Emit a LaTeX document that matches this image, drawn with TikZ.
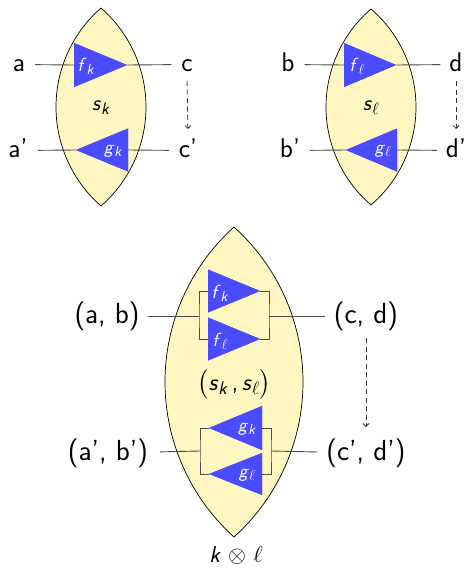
\RequirePackage{fix-cm}
\documentclass[tikz,border=0pt]{standalone}
\usepackage{amsmath}
\usepackage{fontspec}
\usetikzlibrary{arrows.meta}
\definecolor{lensfill}{HTML}{FFF7C2}
\definecolor{triblue}{HTML}{4B4BFF}
\makeatletter
\newcommand\mi[1]{\textsf{\itshape #1}}
\newcommand\sbs[1]{\raisebox{-0.17em}{\fontsize{\strip@pt\dimexpr0.76\dimexpr\f@size pt\relax\relax}{1}\selectfont #1}}
\makeatother
\newcommand\lensshape[4]{%
  \pgfmathsetmacro\lR{((#4)/(#3))*(#4)/2+(#3)/2}%
  \pgfmathsetmacro\lA{asin((#4)/\lR)}%
  \draw[lensst] (#1,{#2-#4}) arc[start angle={180+\lA}, end angle={180-\lA}, radius=\lR]
    arc[start angle=\lA, end angle=-\lA, radius=\lR] -- cycle;}
% right-pointing triangle: name, left x, centre y, half height, length
\newcommand\rtri[5]{%
  \fill[trist] (#2,{#3-#4}) -- ({#2+#5},#3) -- (#2,{#3+#4}) -- cycle;
  \coordinate (#1-in) at (#2,#3);
  \coordinate (#1-out) at ({#2+#5},#3);}
% left-pointing triangle: name, tip x, centre y, half height, length
\newcommand\ltri[5]{%
  \fill[trist] ({#2+#5},{#3-#4}) -- (#2,#3) -- ({#2+#5},{#3+#4}) -- cycle;
  \coordinate (#1-in) at ({#2+#5},#3);
  \coordinate (#1-out) at (#2,#3);}
\newcommand\symk[1]{\mi{#1}\sbs{\mi{k}}}
\newcommand\syml[1]{\mi{#1}\sbs{$\ell$}}
\begin{document}
\begin{tikzpicture}[x=1pt,y=-1pt,
  lensst/.style={fill=lensfill,draw=black,line width=0.7pt},
  wire/.style={draw=black!70,line width=0.9pt},
  trist/.style={fill=triblue},
  toplab/.style={inner sep=0pt,outer sep=0pt,anchor=base,text height=20pt,text depth=7pt,font=\sffamily\fontsize{27}{32}\selectfont},
  botlab/.style={inner sep=0pt,outer sep=0pt,anchor=base,text height=21pt,text depth=7pt,font=\sffamily\fontsize{29}{34}\selectfont},
  trilab/.style={inner sep=0pt,text=white,font=\sffamily\fontsize{19}{22}\selectfont},
  midlab/.style={inner sep=0pt,font=\sffamily\fontsize{22}{26}\selectfont},
  dasharrow/.style={draw=black!80,dashed,dash pattern=on 5pt off 3.5pt,-{Straight Barb[length=3pt,width=6pt]},line width=0.8pt}
]
\useasboundingbox (0,0) rectangle (466,568);

% ---------- lenses ----------
\lensshape{101}{107}{45}{99}
\lensshape{371}{107}{45}{98}
\lensshape{234}{382}{69}{155}

% ---------- labels ----------
\node[toplab] (a)  at (19,71) {a};
\node[toplab] (c)  at (187,71) {c};
\node[toplab] (a2) at (18,157) {a'};
\node[toplab] (c2) at (188,157) {c'};
\node[midlab] (sk) at (101,108) {\symk{s}};

\node[toplab] (b)  at (288,71) {b};
\node[toplab] (d)  at (456,71) {d};
\node[toplab] (b2) at (290,157) {b'};
\node[toplab] (d2) at (456,157) {d'};
\node[midlab] (sl) at (371,108) {\syml{s}};

\node[botlab] (ab)  at (107,323) {(a, b)};
\node[botlab] (cd)  at (366,323) {(c, d)};
\node[botlab] (ab2) at (108,460) {(a', b')};
\node[botlab] (cd2) at (366,460) {(c', d')};
\node[midlab,font=\sffamily\fontsize{24}{28}\selectfont] (skl) at (234,384) {$\bigl($\symk{s}\,,\,\syml{s}$\bigr)$};
\node[midlab,font=\sffamily\fontsize{23}{27}\selectfont] (kl) at (236,555) {\mi{k} $\otimes$ $\ell$};

\coordinate (jl) at (199,316);
\coordinate (jr) at (269,316);
\coordinate (jl2) at (200,451);
\coordinate (jr2) at (271,451);

% ---------- triangles (define coordinates) ----------
\rtri{fk}{74}{65}{22}{53}
\ltri{gk}{76}{150}{21.5}{52}
\rtri{fl}{344}{65}{22}{52}
\ltri{gl}{346}{150}{21.5}{51}
\rtri{Bfk}{208}{291}{21.5}{52}
\rtri{Bfl}{208}{339}{21.5}{52}
\ltri{Bgk}{209}{428}{22}{53}
\ltri{Bgl}{209}{474}{21}{53}

% ---------- wires ----------
\draw[wire,shorten <=10pt] (a) -- (fk-in);
\draw[wire,shorten >=10pt] (fk-out) -- (c);
\draw[wire,shorten <=10pt] (a2) -- (gk-out);
\draw[wire,shorten >=10pt] (gk-in) -- (c2);
\draw[wire,shorten <=10pt] (b) -- (fl-in);
\draw[wire,shorten >=9pt] (fl-out) -- (d);
\draw[wire,shorten <=10pt] (b2) -- (gl-out);
\draw[wire,shorten >=9pt] (gl-in) -- (d2);

\draw[wire,shorten <=9pt] (ab) -- (jl);
\draw[wire] (Bfk-in) -| (jl) |- (Bfl-in);
\draw[wire] (Bfk-out) -| (jr) |- (Bfl-out);
\draw[wire,shorten >=9pt] (jr) -- (cd);

\draw[wire,shorten <=12pt] (ab2) -- (jl2);
\draw[wire] (Bgk-out) -| (jl2) |- (Bgl-out);
\draw[wire] (Bgk-in) -| (jr2) |- (Bgl-in);
\draw[wire,shorten >=9pt] (jr2) -- (cd2);

% redraw triangles over wires
\rtri{fk}{74}{65}{22}{53}
\ltri{gk}{76}{150}{21.5}{52}
\rtri{fl}{344}{65}{22}{52}
\ltri{gl}{346}{150}{21.5}{51}
\rtri{Bfk}{208}{291}{21.5}{52}
\rtri{Bfl}{208}{339}{21.5}{52}
\ltri{Bgk}{209}{428}{22}{53}
\ltri{Bgl}{209}{474}{21}{53}

% ---------- triangle labels ----------
\node[trilab] (lfk) at (86,66) {\symk{f}};
\node[trilab] (lgk) at (113,151) {\symk{g}};
\node[trilab] (lfl) at (357,66) {\syml{f}};
\node[trilab] (lgl) at (383,151) {\syml{g}};
\node[trilab] (lBfk) at (220,293) {\symk{f}};
\node[trilab] (lBfl) at (220,341) {\syml{f}};
\node[trilab] (lBgk) at (247,429) {\symk{g}};
\node[trilab] (lBgl) at (247,475) {\syml{g}};

% ---------- dashed arrows ----------
\draw[dasharrow,shorten <=3pt,shorten >=8pt] (c.south) -- (c2.north);
\draw[dasharrow,shorten <=3pt,shorten >=8pt] (d.south) -- (d2.north);
\draw[dasharrow,shorten <=8pt,shorten >=12pt] (cd.south) -- (cd2.north);
\end{tikzpicture}
\end{document}
